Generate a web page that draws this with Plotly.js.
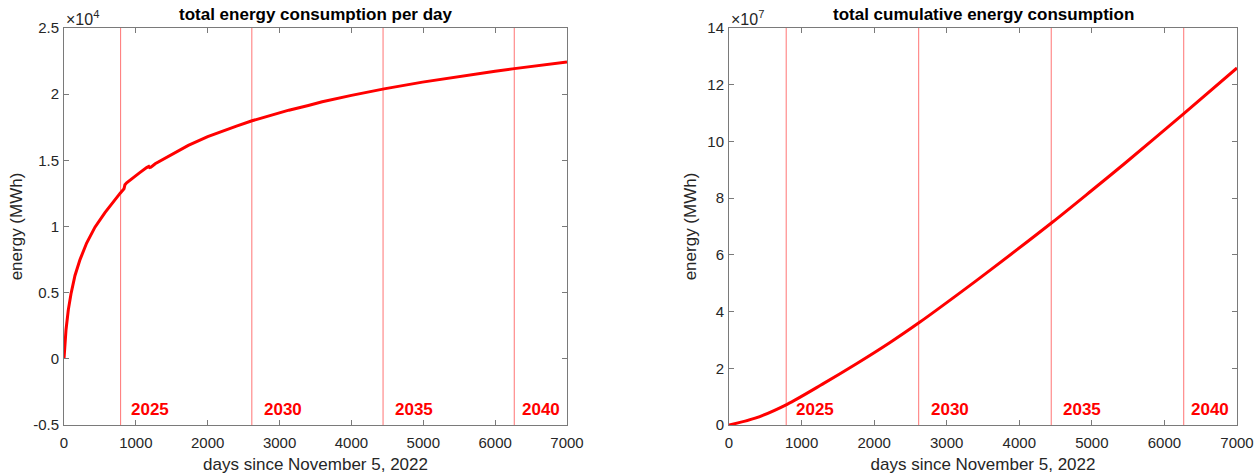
<!DOCTYPE html>
<html>
<head>
<meta charset="utf-8">
<script src="https://cdn.plot.ly/plotly-3.0.1.min.js"></script>
<style>html,body{margin:0;padding:0;background:#fff;}#chart{width:1255px;height:474px;}</style>
</head>
<body>
<div id="chart"></div>
<script>
// ---- data ----
const dailyDays = [0, 28, 60, 97, 153, 223, 315, 431, 570, 680, 779, 835, 848, 872, 950, 1050, 1150, 1180, 1192, 1210, 1269, 1400, 1545, 1730, 2000, 2199, 2400, 2617, 2900, 3129, 3400, 3594, 4000, 4454, 4988, 5453, 6000, 6267, 6600, 7000];
const dailyEnergy = [0, 2200, 3700, 4900, 6300, 7500, 8750, 9950, 11050, 11850, 12500, 12850, 13150, 13300, 13650, 14050, 14450, 14540, 14450, 14480, 14740, 15130, 15600, 16130, 16790, 17210, 17590, 17990, 18450, 18790, 19150, 19430, 19910, 20400, 20910, 21310, 21730, 21930, 22160, 22440];

const cumDays = [0, 361, 801, 1288, 1751, 2214, 2631, 3140, 3604, 4451, 4993, 5456, 6267, 7000];
const cumEnergy = [0, 2.4e6, 7.3e6, 1.44e7, 2.15e7, 2.90e7, 3.63e7, 4.58e7, 5.47e7, 7.14e7, 8.26e7, 9.23e7, 1.098e8, 1.259e8];

const yearLabels = ['2025', '2030', '2035', '2040'];
const yearDays = [788, 2614, 4440, 6266];   // Jan 1 of each year, days since Nov 5 2022

const xTickVals = [0, 1000, 2000, 3000, 4000, 5000, 6000, 7000];
const leftTickVals = [-5000, 0, 5000, 10000, 15000, 20000, 25000];
const leftTickText = ['-0.5', '0', '0.5', '1', '1.5', '2', '2.5'];
const rightTickVals = [0, 2e7, 4e7, 6e7, 8e7, 1e8, 1.2e8, 1.4e8];
const rightTickText = ['0', '2', '4', '6', '8', '10', '12', '14'];

// ---- styling / layout ----
const labelX = [900, 2750, 4575, 6345];
const FONT = 'Liberation Sans, Arial, Helvetica, sans-serif';
const TXT = '#262626';
const AXL = '#7a7a7a';
const RED = '#ff0000';
const VLINE = 'rgba(255,0,0,0.55)';

const traces = [
  {x: dailyDays, y: dailyEnergy, xaxis: 'x', yaxis: 'y', mode: 'lines',
   line: {color: RED, width: 3}, hoverinfo: 'skip'},
  {x: cumDays, y: cumEnergy, xaxis: 'x2', yaxis: 'y2', mode: 'lines',
   line: {color: RED, width: 3, shape: 'spline', smoothing: 0.8}, hoverinfo: 'skip'}
];

const shapes = [];
const annotations = [];
[['x', 'y'], ['x2', 'y2']].forEach(([xa, ya]) => {
  yearDays.forEach((d, i) => {
    shapes.push({type: 'line', xref: xa, yref: ya + ' domain', x0: d, x1: d, y0: 0, y1: 1,
                 line: {color: VLINE, width: 1}, layer: 'below'});
    annotations.push({xref: xa, yref: ya + ' domain', x: labelX[i], y: 0.038,
                      xanchor: 'left', yanchor: 'middle', showarrow: false,
                      text: '<b>' + yearLabels[i] + '</b>',
                      font: {family: FONT, size: 17, color: RED}});
  });
});

function axisCommon(extra) {
  return Object.assign({
    showline: true, linecolor: AXL, linewidth: 1, mirror: 'ticks',
    ticks: 'inside', ticklen: 5, tickwidth: 1, tickcolor: AXL,
    showgrid: false, zeroline: false, automargin: false,
    tickfont: {family: FONT, size: 15, color: TXT}
  }, extra);
}

// titles and exponent markers
annotations.push({xref: 'x domain', yref: 'paper', x: 0.5, y: 1 - 15 / 474, xanchor: 'center', yanchor: 'middle',
  showarrow: false, text: '<b>total energy consumption per day</b>', font: {family: FONT, size: 17, color: '#000'}});
annotations.push({xref: 'x2 domain', yref: 'paper', x: 0.5, y: 1 - 15 / 474, xanchor: 'center', yanchor: 'middle',
  showarrow: false, text: '<b>total cumulative energy consumption</b>', font: {family: FONT, size: 17, color: '#000'}});
annotations.push({xref: 'x domain', yref: 'y domain', x: 0, y: 1, xanchor: 'left', yanchor: 'bottom', yshift: -2,
  showarrow: false, text: '×10<sup>4</sup>', font: {family: FONT, size: 16, color: TXT}});
annotations.push({xref: 'x2 domain', yref: 'y2 domain', x: 0, y: 1, xanchor: 'left', yanchor: 'bottom', yshift: -2,
  showarrow: false, text: '×10<sup>7</sup>', font: {family: FONT, size: 16, color: TXT}});

const yDom = [1 - 425 / 474, 1 - 28 / 474];
const layout = {
  width: 1255, height: 474,
  margin: {l: 0, r: 0, t: 0, b: 0},
  paper_bgcolor: '#fff', plot_bgcolor: '#fff',
  showlegend: false,
  xaxis: axisCommon({domain: [64 / 1255, 567 / 1255], range: [0, 7000], tickvals: xTickVals, anchor: 'y',
    ticklabelstandoff: 4,
    title: {text: 'days since November 5, 2022', font: {family: FONT, size: 17, color: TXT}, standoff: 9}}),
  yaxis: axisCommon({domain: yDom, range: [-5000, 25000], tickvals: leftTickVals, ticktext: leftTickText, anchor: 'x',
    ticklabelstandoff: 1,
    title: {text: 'energy (MWh)', font: {family: FONT, size: 17, color: TXT}, standoff: 6}}),
  xaxis2: axisCommon({domain: [729 / 1255, 1237 / 1255], range: [0, 7000], tickvals: xTickVals, anchor: 'y2',
    ticklabelstandoff: 4,
    title: {text: 'days since November 5, 2022', font: {family: FONT, size: 17, color: TXT}, standoff: 9}}),
  yaxis2: axisCommon({domain: yDom, range: [0, 1.4e8], tickvals: rightTickVals, ticktext: rightTickText, anchor: 'x2',
    ticklabelstandoff: 1,
    title: {text: 'energy (MWh)', font: {family: FONT, size: 17, color: TXT}, standoff: 6}}),
  shapes: shapes,
  annotations: annotations
};

Plotly.newPlot('chart', traces, layout, {staticPlot: true, displayModeBar: false});
</script>
</body>
</html>
